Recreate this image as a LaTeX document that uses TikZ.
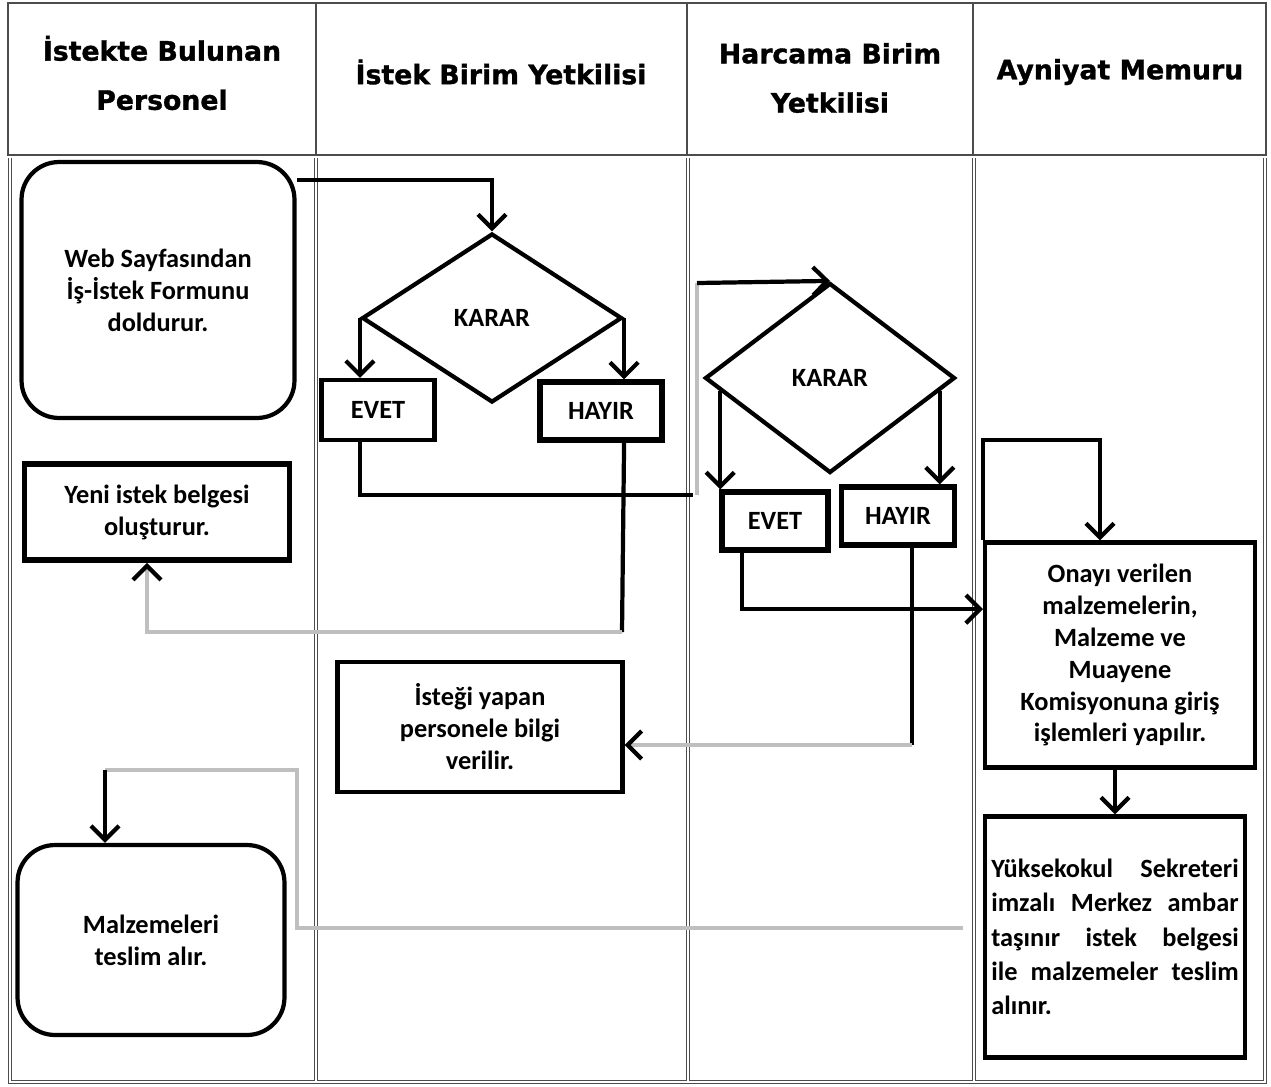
\documentclass[tikz,border=0pt]{standalone}
\usepackage{fontspec}
\setmainfont{Carlito}
\newfontfamily\headfont[BoldFeatures={FakeBold=1.2}]{DejaVu Sans}
\usetikzlibrary{shapes.geometric}
\usetikzlibrary{arrows.meta}
\usetikzlibrary{calc}

\begin{document}
\begin{tikzpicture}[x=0.02cm, y=-0.02cm,
        lane/.style={black!70, line width=0.5pt, double, double distance=1.2pt},
        head/.style={font=\headfont\bfseries\fontsize{15.2}{28}\selectfont, align=center},
        box/.style={rectangle, draw, line width=2.4pt, font=\bfseries\fontsize{15}{18.2}\selectfont, align=center, inner sep=2pt},
        rbox/.style={box, rounded corners=0.75cm},
        karar/.style={diamond, draw, line width=2.4pt, inner sep=0pt, font=\bfseries\fontsize{15}{18.2}\selectfont},
        flow/.style={line width=2.4pt, -{Straight Barb[length=8pt, width=16pt]}},
        link/.style={line width=2.4pt},
        faint/.style={line width=2.4pt, gray!50},
        faintflow/.style={faint, -{Straight Barb[length=8pt, width=16pt, color=black]}}]
        \useasboundingbox (0,0) rectangle (1271,1086);

        \draw[black!70, line width=0.7pt] (8,3) rectangle (1266,155);
        \foreach \x in {316,687,973} \draw[black!70, line width=0.7pt] (\x,3) -- (\x,155);
        \draw[lane] (10,158) -- (10,1082) -- (1265,1082) -- (1265,158);
        \foreach \x in {316,688,974} \draw[lane] (\x,158) -- (\x,1081);

        \node[head] (hpers) at (162,73) {İstekte Bulunan\\Personel};
        \node[head] (hist) at (501,72) {İstek Birim Yetkilisi};
        \node[head] (hharc) at (830,78) {Harcama Birim\\Yetkilisi};
        \node[head] (hayn) at (1120,72) {Ayniyat Memuru};

        \node[rbox, minimum width=5.46cm, minimum height=5.12cm] (web) at (158,290) {Web Sayfasından\\İş-İstek Formunu\\doldurur.};
        \node[karar, minimum width=5.2cm, minimum height=3.38cm] (karar1) at (492,318) {KARAR};
        \node[box, minimum width=2.26cm, minimum height=1.2cm] (evet1) at (378,410) {EVET};
        \node[box, minimum width=2.44cm, minimum height=1.16cm, line width=3pt] (hayir1) at (601,411) {HAYIR};
        \node[box, minimum width=5.3cm, minimum height=1.92cm, line width=3.2pt] (yeni) at (157,512) {Yeni istek belgesi\\oluşturur.};
        \node[karar, minimum width=5cm, minimum height=3.8cm] (karar2) at (830,378) {KARAR};
        \node[box, minimum width=2.12cm, minimum height=1.16cm, line width=3pt] (evet2) at (775,521) {EVET};
        \node[box, minimum width=2.26cm, minimum height=1.16cm, line width=3pt] (hayir2) at (898,516) {HAYIR};
        \node[box, minimum width=5.7cm, minimum height=2.6cm] (istegi) at (480,727) {İsteği yapan\\personele bilgi\\verilir.};
        \node[box, minimum width=5.4cm, minimum height=4.5cm] (onay) at (1120,655) {Onayı verilen\\malzemelerin,\\Malzeme ve\\Muayene\\Komisyonuna giriş\\işlemleri yapılır.};
        \node[box, minimum width=5.2cm, minimum height=4.82cm, text width=4.95cm, inner xsep=0.1cm, align=left, font=\bfseries\fontsize{15}{19.5}\selectfont] (yuksek) at (1115,937) {Yüksekokul\hfill Sekreteri\\imzalı\hfill Merkez\hfill ambar\\taşınır\hfill istek\hfill belgesi\\ile\hfill malzemeler\hfill teslim\\alınır.};
        \node[rbox, minimum width=5.34cm, minimum height=3.8cm] (malz) at (151,940) {Malzemeleri\\teslim alır.};

        \coordinate (evetbend) at (693,495);
        \coordinate (evettop) at (697,283);
        \coordinate (hayirbend) at (622,632);
        \coordinate (k2l) at ($(karar2.west)!0.136!(karar2.south)$);
        \coordinate (k2r) at ($(karar2.east)!0.136!(karar2.south)$);
        \coordinate (evetout) at ($(evet2.south west)+(23,0)$);
        \coordinate (hayirout) at (912,745);
        \coordinate (loop) at (1100,440);
        \coordinate (teslimbend) at (297,770);
        \coordinate (teslimtop) at (105,770);

        \draw[flow] ($(web.north east)+(0,20)$) -| (karar1.north);
        \draw[flow] (karar1.west) -- (karar1.west |- evet1.north);
        \draw[flow] (karar1.east) -- (karar1.east |- hayir1.north);
        \draw[link] (evet1.south -| karar1.west) |- (evetbend);
        \draw[faint] (evetbend -| evettop) -- (evettop);
        \draw[flow] (evettop) -- (karar2.north);
        \draw[link] (hayir1.south -| karar1.east) -- (hayirbend);
        \draw[faintflow] (hayirbend) -| ($(yeni.south)+(-10,0)$);
        \draw[flow] (k2l) -- (k2l |- evet2.north);
        \draw[flow] (k2r) -- (k2r |- hayir2.north);
        \draw[flow] (evetout) |- ($(onay.north west)!0.3!(onay.south west)$);
        \draw[link] (hayir2.south -| hayirout) -- (hayirout);
        \draw[faintflow] (hayirout) -- (hayirout -| istegi.east);
        \draw[flow] (onay.north west) |- (loop) -- (loop |- onay.north);
        \draw[flow] (yuksek.north |- onay.south) -- (yuksek.north);
        \draw[faint] ($(yuksek.west)+(-20,-9)$) -| (teslimbend) -- (teslimtop);
        \draw[flow] (teslimtop) -- (teslimtop |- malz.north);
    \end{tikzpicture}
\end{document}
